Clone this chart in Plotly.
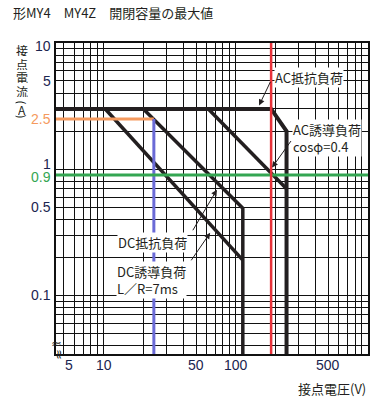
import numpy as np
import plotly.graph_objects as go

# ---------------- data (volts, amps) ----------------
ac_res_V = [1, 185, 242, 242]
ac_res_I = [3, 3, 2.0, 0.001]
ac_ind_V = [62, 242]
ac_ind_I = [3, 0.7]
dc_res_V = [20, 113, 113]
dc_res_I = [3, 0.49, 0.001]
dc_ind_V = [10.3, 113]
dc_ind_I = [3, 0.19]

dc_rated_V = 24      # blue marker
dc_rated_I = 2.5     # orange marker
ac_rated_V = 185     # red marker
ac_rated_I = 0.9     # green marker

x_tick_labels = [5, 10, 50, 100, 500]
y_tick_labels = ["10", "5", "2.5", "1", "0.9", "0.5", "0.1"]
y_tick_values = [10, 5, 2.5, 1, 0.9, 0.5, 0.1]

x_grid = [5, 6, 7, 8, 9] + [10 * k for k in range(1, 10)] + [100 * k for k in range(1, 11)]
y_grid = [0.01 * k for k in range(4, 10)] + [0.1 * k for k in range(1, 10)] + [k for k in range(1, 11)]

X_RANGE = [0.64, 3.0]
Y_RANGE = [np.log10(0.0343), 1.0]

CURVE = "#231f20"
RED = "#e8323a"
BLUE = "#6a6ad6"
ORANGE = "#f59a5e"
GREEN = "#34a652"
NAVY = "#1b2550"
TXT = "#231f20"
JP = "Noto Sans CJK JP"
NUM = "Liberation Sans, Noto Sans CJK JP"

fig = go.Figure()

def line(xs, ys, color, width):
    fig.add_trace(go.Scatter(x=xs, y=ys, mode="lines",
                             line=dict(color=color, width=width),
                             hoverinfo="skip", showlegend=False))

# curves
line(ac_res_V, ac_res_I, CURVE, 4)
line(ac_ind_V, ac_ind_I, CURVE, 3.5)
line(dc_res_V, dc_res_I, CURVE, 3.5)
line(dc_ind_V, dc_ind_I, CURVE, 3.5)

# highlight lines
line([1, dc_rated_V], [dc_rated_I, dc_rated_I], ORANGE, 3)
line([dc_rated_V, dc_rated_V], [0.001, dc_rated_I], BLUE, 3)
line([1, 10000], [ac_rated_I, ac_rated_I], GREEN, 3)
line([ac_rated_V, ac_rated_V], [0.001, 100], RED, 2.5)

ann = []
# title
ann.append(dict(text="形MY4　MY4Z　開閉容量の最大値", xref="paper", yref="paper",
                x=-56/312 + 11/312, y=1 + (43 - 12.5) / 311, xanchor="left", yanchor="middle",
                showarrow=False, font=dict(family=JP, size=13, color=TXT)))

# x tick labels
for v in x_tick_labels:
    ann.append(dict(text=str(v), xref="x", yref="paper", x=np.log10(v), y=0,
                    xanchor="center", yanchor="top", yshift=-1,
                    xshift=5 if v == 5 else 0,
                    showarrow=False, font=dict(family=NUM, size=14, color=NAVY)))

# y tick labels
ycolors = {"2.5": ORANGE, "0.9": GREEN}
yshifts = {"10": -3, "1": 5, "0.9": -2}
for lab, v in zip(y_tick_labels, y_tick_values):
    ann.append(dict(text=lab, xref="paper", yref="y", x=0, y=np.log10(v),
                    xanchor="right", yanchor="middle", xshift=-3,
                    yshift=yshifts.get(lab, 0),
                    showarrow=False, font=dict(family=NUM, size=14, color=ycolors.get(lab, NAVY))))

# y axis title (vertical, stacked)
ychars = ["接", "点", "電", "流", "(", "A", ")"]
ypix = [50, 63.5, 77, 90.5, 102, 109, 116]
for ch, py in zip(ychars, ypix):
    ann.append(dict(text=ch, xref="paper", yref="paper", x=(21.5 - 56) / 312,
                    y=(354 - py) / 311, xanchor="center", yanchor="middle",
                    textangle=90 if ch in ("(", ")") else 0,
                    height=12, borderpad=0,
                    showarrow=False, font=dict(family=JP, size=12, color=TXT)))

# x axis title
ann.append(dict(text="接点電圧(V)", xref="paper", yref="paper", x=1, y=(354 - 388) / 311,
                xanchor="right", yanchor="middle", showarrow=False,
                font=dict(family=JP, size=13, color=TXT)))

# curve labels
def label(text, px, py):
    ann.append(dict(text=text, xref="paper", yref="paper", x=(px - 56) / 312,
                    y=(354 - py) / 311, xanchor="left", yanchor="middle", align="left",
                    showarrow=False, bgcolor="white", borderpad=0,
                    font=dict(family=JP, size=13, color=TXT)))

label("AC抵抗負荷", 274, 77.5)
label("AC誘導負荷<br>cosφ=0.4", 292, 137.5)
label("DC抵抗負荷", 117, 242.5)
label("DC誘導負荷<br>L／R=7ms", 116, 280)

def arrow(V, I, ax, ay):
    ann.append(dict(text="", xref="x", yref="y", x=np.log10(V), y=np.log10(I),
                    ax=ax, ay=ay, showarrow=True, arrowhead=2, arrowsize=1.2,
                    arrowwidth=1, arrowcolor=TXT))

arrow(150, 3.2, 12, -25)
arrow(188, 1.03, 20, -28)
arrow(72, 0.687, -25, 42)
arrow(64, 0.313, -20, 29)

# axis break marks
ann.append(dict(text="≈", xref="paper", yref="paper", x=0, y=(354 - 343) / 311,
                xanchor="center", yanchor="middle", showarrow=False,
                font=dict(family="DejaVu Sans", size=13, color=TXT)))
ann.append(dict(text="≈", xref="paper", yref="paper", x=(60 - 56) / 312, y=(354 - 354) / 311,
                xanchor="center", yanchor="middle", textangle=90, showarrow=False,
                font=dict(family="DejaVu Sans", size=13, color=TXT)))

axis_common = dict(type="log", showticklabels=False, ticks="", showgrid=True,
                   gridcolor="#111", gridwidth=1, showline=True, linecolor="#111",
                   linewidth=1.5, mirror=True, zeroline=False)

fig.update_layout(
    width=389, height=403, autosize=False,
    margin=dict(l=56, r=21, t=43, b=49, pad=0),
    paper_bgcolor="white", plot_bgcolor="white",
    xaxis=dict(range=X_RANGE, tickvals=x_grid, **axis_common),
    yaxis=dict(range=Y_RANGE, tickvals=y_grid, **axis_common),
    annotations=ann,
    showlegend=False,
)

fig.write_html("out.html", config={"displayModeBar": False},
               post_script="document.body.style.margin='0px';document.body.style.overflow='hidden';")
